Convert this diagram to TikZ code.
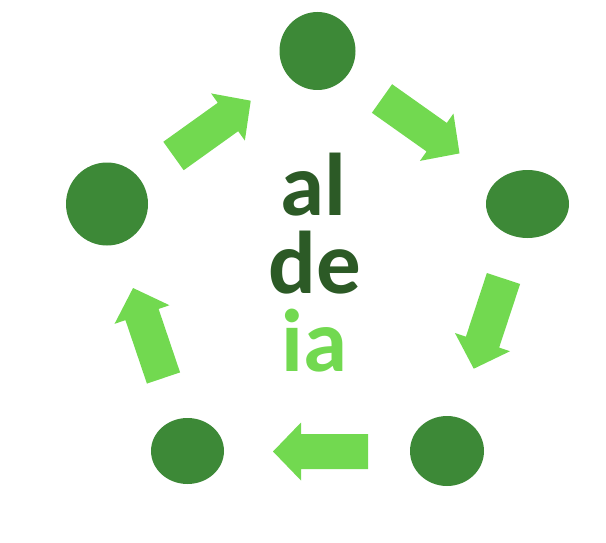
\documentclass[tikz,border=0pt]{standalone}
\usepackage{fontspec}
\setmainfont{Carlito}
\usetikzlibrary{shapes.geometric}

\definecolor{dotgreen}{HTML}{3D8937}
\definecolor{arrowgreen}{HTML}{72D950}
\definecolor{darkgreen}{HTML}{2C5A26}

\tikzset{
  dot/.style={ellipse, fill=dotgreen, inner sep=0pt},
  word/.style={anchor=base, inner sep=0pt, text depth=0pt,
    font=\fontsize{89}{89}\selectfont\bfseries},
  blockarrow/.pic={\fill[arrowgreen] (0,-17.5) -- (67,-17.5) -- (67,-29) -- (95,0)
    -- (67,29) -- (67,17.5) -- (0,17.5) -- cycle;}
}

\begin{document}
\begin{tikzpicture}[x=1pt,y=-1pt]
\useasboundingbox (0,0) rectangle (606,543);
% circles
\node[dot, minimum width=76pt, minimum height=78pt] (top) at (317.5,51) {};
\node[dot, minimum width=83pt, minimum height=68pt] (right) at (527.5,204) {};
\node[dot, minimum width=74pt, minimum height=70pt] (lowright) at (447,451) {};
\node[dot, minimum width=73pt, minimum height=66pt] (lowleft) at (187.5,451) {};
\node[dot, minimum width=82pt, minimum height=83pt] (left) at (107,204) {};
% arrows
\pic[rotate=35.6] at (173.5,156) {blockarrow};
\pic[rotate=-35.3] at (382,98.5) {blockarrow};
\pic[rotate=-108.25] at (503.5,278.5) {blockarrow};
\pic[rotate=180] at (368,451.5) {blockarrow};
\pic[rotate=108.7] at (163.5,378) {blockarrow};
% text
\node[word, text=darkgreen] (al) at (313,215) {al};
\node[word, text=darkgreen] (de) at (314.5,293.5) {de};
\node[word, text=arrowgreen] (ia) at (314.5,371.5) {ia};
\end{tikzpicture}
\end{document}
